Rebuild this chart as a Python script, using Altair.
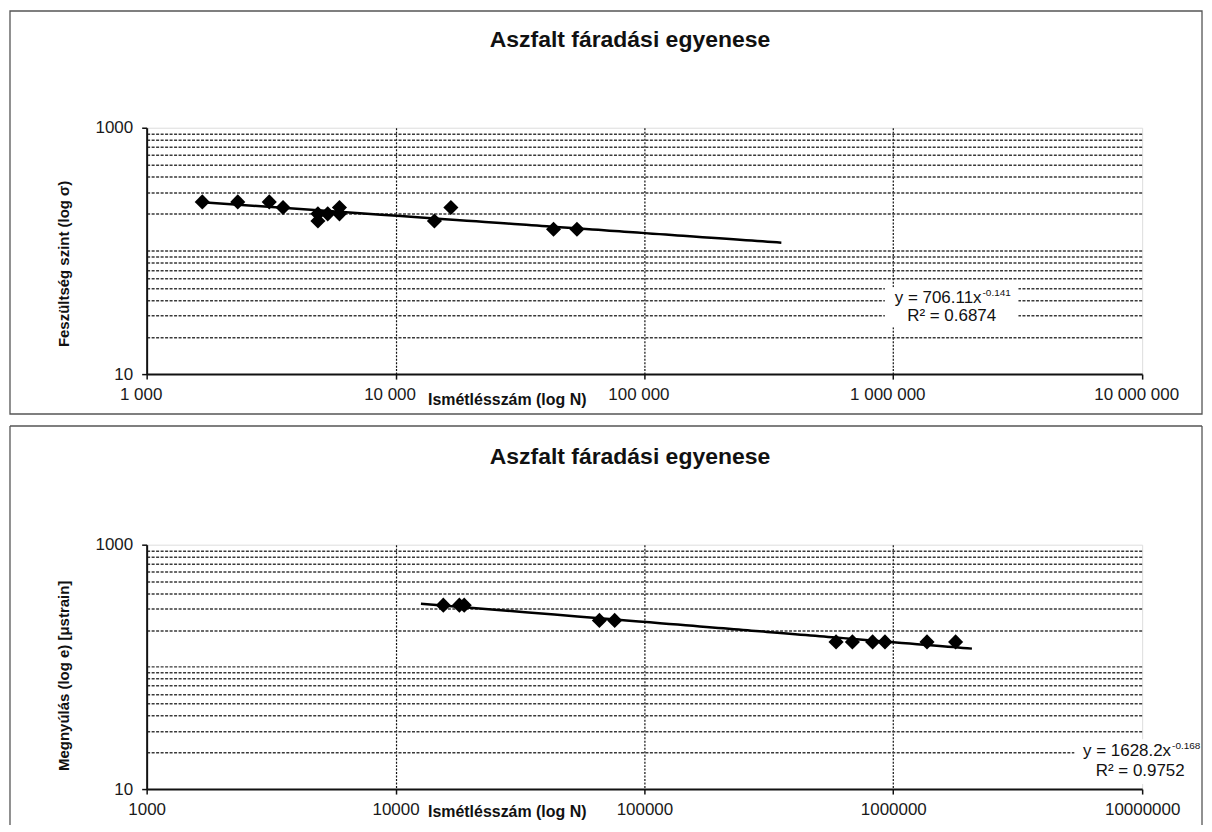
import altair as alt
import pandas as pd

# ---------------- data ----------------
# top chart: stress level vs. number of repetitions
stress_cycles = [1673, 2323, 3109, 3532, 4877, 4877, 5340, 5953, 5953, 14330, 16690, 43140, 53580]
stress_levels = [250, 250, 250, 225, 175, 200, 200, 225, 200, 175, 225, 150, 150]
stress_trend_extent = [1673, 355000]

# bottom chart: strain vs. number of repetitions
strain_cycles = [15560, 18050, 18880, 65940, 75960, 589000, 685000, 826000, 926000, 1366000, 1780000]
strain_levels = [320, 320, 320, 240, 240, 160, 160, 160, 160, 160, 160]
strain_trend_extent = [12650, 2070000]

title_text = "Aszfalt fáradási egyenese"
x_title = "Ismétlésszám (log N)"
y_title_top = "Feszültség szint (log σ)"
y_title_bottom = "Megnyúlás (log e) [μstrain]"

x_ticks = [1000, 10000, 100000, 1000000, 10000000]
x_labels_top = ["1 000", "10 000", "100 000", "1 000 000", "10 000 000"]
x_labels_bottom = ["1000", "10000", "100000", "1000000", "10000000"]
y_ticks = [10, 1000]
y_labels = ["10", "1000"]
y_grid = [20, 30, 40, 50, 60, 70, 80, 90, 100, 200, 300, 400, 500, 600, 700, 800, 900]

eq_top = ["y = 706.11x", "-0.141", "R² = 0.6874"]
eq_bottom = ["y = 1628.2x", "-0.168", "R² = 0.9752"]

# annotation anchor positions (data space)
eq_top_pos = {"main": (2.263e6, 41.6), "sup": (2.284e6, 41.6), "r2": (1.716e6, 29.8),
              "box": (9.25e5, 3.184e6, 50.6, 24.0)}
eq_bottom_pos = {"main": (1.307e7, 20.4), "sup": (1.319e7, 20.4), "r2": (9.82e6, 14.0),
                 "box": (5.34e6, 1.616e7, 25.6, 11.0)}

FONT = "Liberation Sans"
W = 998


def label_expr(values, labels):
    expr = "''"
    for v, l in reversed(list(zip(values, labels))):
        expr = f"datum.value == {v} ? '{l}' : ({expr})"
    return expr


def panel(cycles, levels, extent, x_labels, label_offset, y_title, y_title_y,
          eq_text, eq_pos, height, frame_top, frame_bottom, frame_rect):
    df = pd.DataFrame({"N": cycles, "v": levels})
    xs = alt.Scale(type="log", domain=[1000, 10000000], nice=False)
    ys = alt.Scale(type="log", domain=[10, 1000], nice=False)
    edge_x = "datum.value == 1000 || datum.value == 10000000"
    edge_y = "datum.value == 10 || datum.value == 1000"
    xaxis = alt.Axis(
        values=x_ticks, labelExpr=label_expr(x_ticks, x_labels), labelFlush=False,
        labelOverlap=False, labelFontSize=17, labelColor="#1a1a1a", labelFont=FONT,
        labelBaseline="middle", labelPadding=15, labelOffset=label_offset,
        tickSize=5, tickColor="#111", tickWidth=1.5,
        domainColor="#111", domainWidth=2,
        grid=True, gridColor="#111", gridDash=[2, 1.5], gridWidth=1.2,
        gridOpacity={"condition": {"test": edge_x, "value": 0}, "value": 1},
        title=x_title, titleFont=FONT, titleFontSize=16, titleFontWeight="bold",
        titleColor="#111", titleX=361, titleY=25 if height > 246 else 22,
        titleBaseline="middle", titleAlign="center", titleAnchor="start",
    )
    yaxis = alt.Axis(
        values=y_ticks[:1] + y_grid + y_ticks[1:], labelExpr=label_expr(y_ticks, y_labels),
        labelFlush=False, labelOverlap=False, labelFontSize=17, labelColor="#1a1a1a",
        labelFont=FONT, labelPadding=9,
        tickSize=5, tickColor="#111", tickWidth=1.5,
        tickOpacity={"condition": {"test": edge_y, "value": 1}, "value": 0},
        domainColor="#111", domainWidth=2,
        grid=True, gridColor="#3a3a3a", gridDash=[3, 1.5], gridWidth=1.5,
        gridOpacity={"condition": {"test": edge_y, "value": 0}, "value": 1},
        title=y_title, titleFont=FONT, titleFontSize=15, titleFontWeight="bold",
        titleColor="#111", titleX=-83, titleY=y_title_y, titleAngle=270,
        titleBaseline="middle", titleAlign="center", titleAnchor="start",
    )
    X = alt.X("N:Q", scale=xs, axis=xaxis)
    Y = alt.Y("v:Q", scale=ys, axis=yaxis)

    base = alt.Chart(df)
    trend = base.transform_regression("N", "v", method="pow", extent=extent).mark_line(
        color="black", strokeWidth=2.5).encode(x=X, y=Y)
    pts = base.mark_point(shape="diamond", filled=True, color="black", opacity=1,
                          size=230).encode(x=X, y=Y)

    bx = eq_pos["box"]
    box = alt.Chart(pd.DataFrame({"N": [bx[0]], "N2": [bx[1]], "v": [bx[2]], "v2": [bx[3]]})).mark_rect(
        color="white").encode(x=X, x2="N2:Q", y=Y, y2="v2:Q")
    main = alt.Chart(pd.DataFrame({"N": [eq_pos["main"][0]], "v": [eq_pos["main"][1]], "t": [eq_text[0]]})).mark_text(
        font=FONT, fontSize=17, align="right", baseline="middle", color="#111").encode(x=X, y=Y, text="t:N")
    sup = alt.Chart(pd.DataFrame({"N": [eq_pos["sup"][0]], "v": [eq_pos["sup"][1]], "t": [eq_text[1]]})).mark_text(
        font=FONT, fontSize=10, align="left", baseline="middle", dy=-5, color="#111").encode(x=X, y=Y, text="t:N")
    r2 = alt.Chart(pd.DataFrame({"N": [eq_pos["r2"][0]], "v": [eq_pos["r2"][1]], "t": [eq_text[2]]})).mark_text(
        font=FONT, fontSize=17, align="center", baseline="middle", color="#111").encode(x=X, y=Y, text="t:N")

    one = alt.Data(values=[{"t": title_text}])
    title = alt.Chart(one).mark_text(font=FONT, fontSize=23, fontWeight="bold", align="center",
                                     baseline="middle", color="#111").encode(
        x=alt.value(484.5), y=alt.value(-88), text="t:N")

    layers = [box, trend, pts, main, sup, r2, title]
    if frame_rect:
        frame = alt.Chart(one).mark_rect(filled=False, stroke="#555", strokeWidth=1.3).encode(
            x=alt.value(-137), x2=alt.value(1058), y=alt.value(frame_top), y2=alt.value(frame_bottom))
        layers.append(frame)
    else:
        rl = alt.Chart(one).mark_rule(stroke="#555", strokeWidth=1.3)
        layers.append(rl.encode(x=alt.value(-137), x2=alt.value(1058), y=alt.value(frame_top)))
        layers.append(rl.encode(x=alt.value(-137), y=alt.value(frame_top), y2=alt.value(frame_bottom)))
        layers.append(rl.encode(x=alt.value(1058), y=alt.value(frame_top), y2=alt.value(frame_bottom)))
    return alt.layer(*layers).properties(width=W, height=height)


top = panel(stress_cycles, stress_levels, stress_trend_extent, x_labels_top, -6,
            y_title_top, 136, eq_top, eq_top_pos, 247, -117, 287, True)
bottom = panel(strain_cycles, strain_levels, strain_trend_extent, x_labels_bottom, 0,
               y_title_bottom, 131, eq_bottom, eq_bottom_pos, 245, -119, 281, False)

chart = alt.vconcat(top, bottom, spacing=8).properties(padding=0).configure_view(
    fill="#e3e3e3", stroke="#8c8c8c", strokeWidth=1.5
).configure(background="white")

chart.save("out.html", embed_options={"renderer": "svg", "actions": False})
